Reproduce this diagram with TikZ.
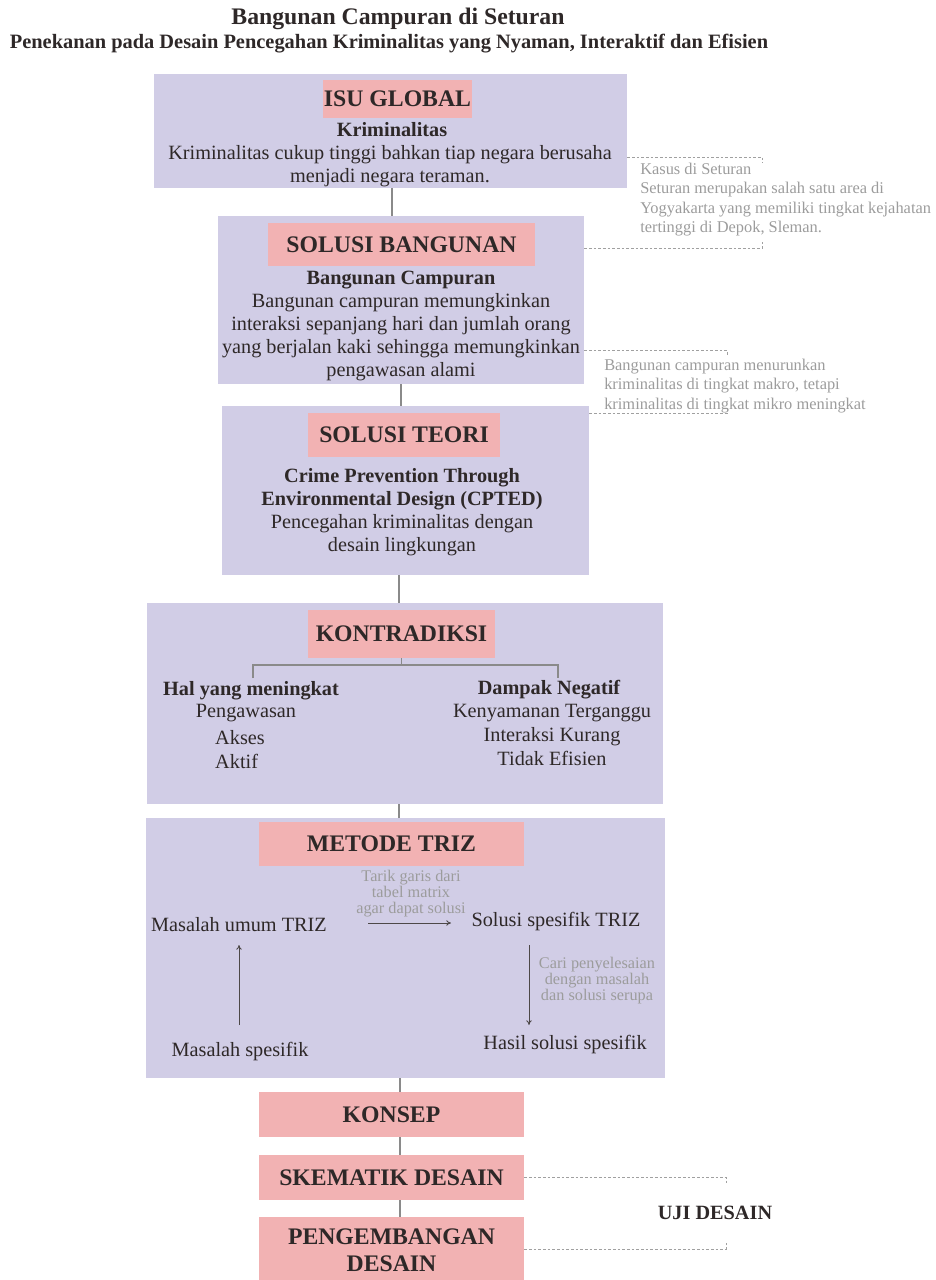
\documentclass[tikz,border=0pt]{standalone}
\usepackage{fontspec}
\setmainfont{Liberation Serif}
\usetikzlibrary{arrows.meta,calc}
\definecolor{lav}{HTML}{D1CDE6}
\definecolor{pinkh}{HTML}{F2B2B3}
\definecolor{ink}{HTML}{2E2828}
\definecolor{graytx}{HTML}{9C9C9C}
\definecolor{conn}{HTML}{8A8A8A}
\definecolor{dashc}{HTML}{A0A0A0}
\tikzset{
  lavbox/.style={fill=lav, draw=none, inner sep=0pt},
  pinkbox/.style={fill=pinkh, draw=none, inner sep=0pt, text=ink, font=\fontsize{17.8}{20}\selectfont\bfseries, align=center},
  body/.style={text=ink, font=\fontsize{15.2}{17.2}\selectfont, align=center, inner sep=0pt},
  bodyb/.style={text=ink, font=\fontsize{15.2}{17.2}\selectfont\bfseries, align=center, inner sep=0pt},
  side/.style={text=graytx, font=\fontsize{12.3}{14.4}\selectfont, align=left, inner sep=0pt},
  sidec/.style={text=graytx, font=\fontsize{12.2}{12}\selectfont, align=center, inner sep=0pt},
  connline/.style={draw=conn, line width=0.8pt},
  dashline/.style={draw=dashc, line width=0.6pt, dash pattern=on 2pt off 1.5pt},
  arr/.style={draw=ink!85, line width=0.6pt, -{To[length=3.5pt,width=4pt]}},
}
\begin{document}
\begin{tikzpicture}[x=0.75pt,y=-0.75pt]
\useasboundingbox (0,0) rectangle (935,1280);
% title
\node[text=ink, font=\fontsize{17.8}{20}\selectfont\bfseries, inner sep=0pt] (title) at (398,19) {Bangunan Campuran di Seturan};
\node[text=ink, font=\fontsize{15.3}{17}\selectfont\bfseries, inner sep=0pt] (subtitle) at (389,44) {Penekanan pada Desain Pencegahan Kriminalitas yang Nyaman, Interaktif dan Efisien};

% lavender boxes
\node[lavbox, minimum width=473*0.75pt, minimum height=114*0.75pt] (b1) at (390.5,131) {};
\node[lavbox, minimum width=366*0.75pt, minimum height=168*0.75pt] (b2) at (401,300) {};
\node[lavbox, minimum width=367*0.75pt, minimum height=169*0.75pt] (b3) at (405.5,490.5) {};
\node[lavbox, minimum width=516*0.75pt, minimum height=201*0.75pt] (b4) at (405,703.5) {};
\node[lavbox, minimum width=519*0.75pt, minimum height=260*0.75pt] (b5) at (405.5,948) {};

% pink headings
\node[pinkbox, minimum width=149*0.75pt, minimum height=38*0.75pt] (h1) at (397.5,99) {ISU GLOBAL};
\node[pinkbox, minimum width=267*0.75pt, minimum height=43*0.75pt] (h2) at (401.5,244.5) {SOLUSI BANGUNAN};
\node[pinkbox, minimum width=192*0.75pt, minimum height=44*0.75pt] (h3) at (404,435) {SOLUSI TEORI};
\node[pinkbox, minimum width=187*0.75pt, minimum height=48*0.75pt] (h4) at (401.5,634) {KONTRADIKSI};
\node[pinkbox, minimum width=265*0.75pt, minimum height=44*0.75pt] (h5) at (391.5,844) {METODE TRIZ};
\node[pinkbox, minimum width=265*0.75pt, minimum height=45*0.75pt] (k1) at (391.5,1114.5) {KONSEP};
\node[pinkbox, minimum width=265*0.75pt, minimum height=45*0.75pt] (k2) at (391.5,1177.5) {SKEMATIK DESAIN};
\node[pinkbox, minimum width=265*0.75pt, minimum height=66*0.75pt, font=\fontsize{17.8}{20}\selectfont\bfseries] (k3) at (391.5,1250) {PENGEMBANGAN\\DESAIN};

% box 1 text
\node[bodyb] (t1a) at (392,130) {Kriminalitas};
\node[body] (t1b) at (390,166) {Kriminalitas cukup tinggi bahkan tiap negara berusaha\\menjadi negara teraman.};
% box 2 text
\node[body] (t2) at (401,326) {\textbf{Bangunan Campuran}\\Bangunan campuran memungkinkan\\interaksi sepanjang hari dan jumlah orang\\yang berjalan kaki sehingga memungkinkan\\pengawasan alami};
% box 3 text
\node[body] (t3) at (402,512) {\textbf{Crime Prevention Through}\\\textbf{Environmental Design (CPTED)}\\Pencegahan kriminalitas dengan\\desain lingkungan};

% box 4 text
\node[bodyb] (t4a) at (251,691) {Hal yang meningkat};
\node[body] (t4b) at (246,713) {Pengawasan};
\node[body, align=left] (t4c) at (240,749.5) {Akses\\[1pt]Aktif};
\node[bodyb] (t4d) at (549,690) {Dampak Negatif};
\node[body] (t4e) at (552,735) {Kenyamanan Terganggu\\[1pt]Interaksi Kurang\\[1pt]Tidak Efisien};
\coordinate (brL) at (253,665);
\coordinate (brR) at (558,665);
\draw[connline] (h4.south) -- (h4.south |- brL);
\draw[connline] ($(brL)+(0,13)$) -- (brL) -- (brR) -- ($(brR)+(0,13)$);

% box 5 text
\node[body] (m1) at (239,925) {Masalah umum TRIZ};
\node[body] (m2) at (556,922) {Solusi spesifik TRIZ};
\node[body] (m3) at (565,1045) {Hasil solusi spesifik};
\node[body] (m4) at (240,1052) {Masalah spesifik};
\node[sidec] (l1) at (411,894) {Tarik garis dari\\tabel matrix\\agar dapat solusi};
\node[sidec] (l2) at (597,981) {Cari penyelesaian\\dengan masalah\\dan solusi serupa};
\coordinate (a1s) at (368,923);
\coordinate (a1e) at (451,923);
\coordinate (a2s) at (529,945);
\coordinate (a2e) at (529,1025);
\coordinate (a3s) at (239,1025);
\coordinate (a3e) at (239,945);
\draw[arr] (a1s) -- (a1e);
\draw[arr] (a2s) -- (a2e);
\draw[arr] (a3s) -- (a3e);

% vertical connectors
\coordinate (c1) at (392,0);
\coordinate (c2) at (401,0);
\coordinate (c3) at (399,0);
\coordinate (c4) at (400,0);
\draw[connline] (b1.south -| c1) -- (b2.north -| c1);
\draw[connline] (b2.south -| c2) -- (b3.north -| c2);
\draw[connline] (b3.south -| c3) -- (b4.north -| c3);
\draw[connline] (b4.south -| c3) -- (b5.north -| c3);
\draw[connline] (b5.south -| c4) -- (k1.north -| c4);
\draw[connline] (k1.south -| c4) -- (k2.north -| c4);
\draw[connline] (k2.south -| c4) -- (k3.north -| c4);

% side notes
\coordinate (d1t) at (762,157);
\coordinate (d1b) at (762,248);
\draw[dashline] (b1.east |- d1t) -- (d1t) -- ++(0,6);
\draw[dashline] (b2.east |- d1b) -- (d1b) -- ++(0,-6);
\node[side, anchor=north west] (s1) at (640,163) {Kasus di Seturan\\Seturan merupakan salah satu area di\\Yogyakarta yang memiliki tingkat kejahatan\\tertinggi di Depok, Sleman.};

\coordinate (d2t) at (727,350);
\coordinate (d2b) at (727,413);
\draw[dashline] (b2.east |- d2t) -- (d2t) -- ++(0,6);
\draw[dashline] (b3.east |- d2b) -- (d2b) -- ++(0,-6);
\node[side, anchor=north west] (s2) at (604,359) {Bangunan campuran menurunkan\\kriminalitas di tingkat makro, tetapi\\kriminalitas di tingkat mikro meningkat};

\coordinate (d3t) at (726,1177);
\coordinate (d3b) at (726,1249);
\draw[dashline] (k2.east |- d3t) -- (d3t) -- ++(0,6);
\draw[dashline] (k3.east |- d3b) -- (d3b) -- ++(0,-6);
\node[text=ink, font=\fontsize{15.2}{17}\selectfont\bfseries, inner sep=0pt] (uji) at (715,1213) {UJI DESAIN};
\end{tikzpicture}
\end{document}
